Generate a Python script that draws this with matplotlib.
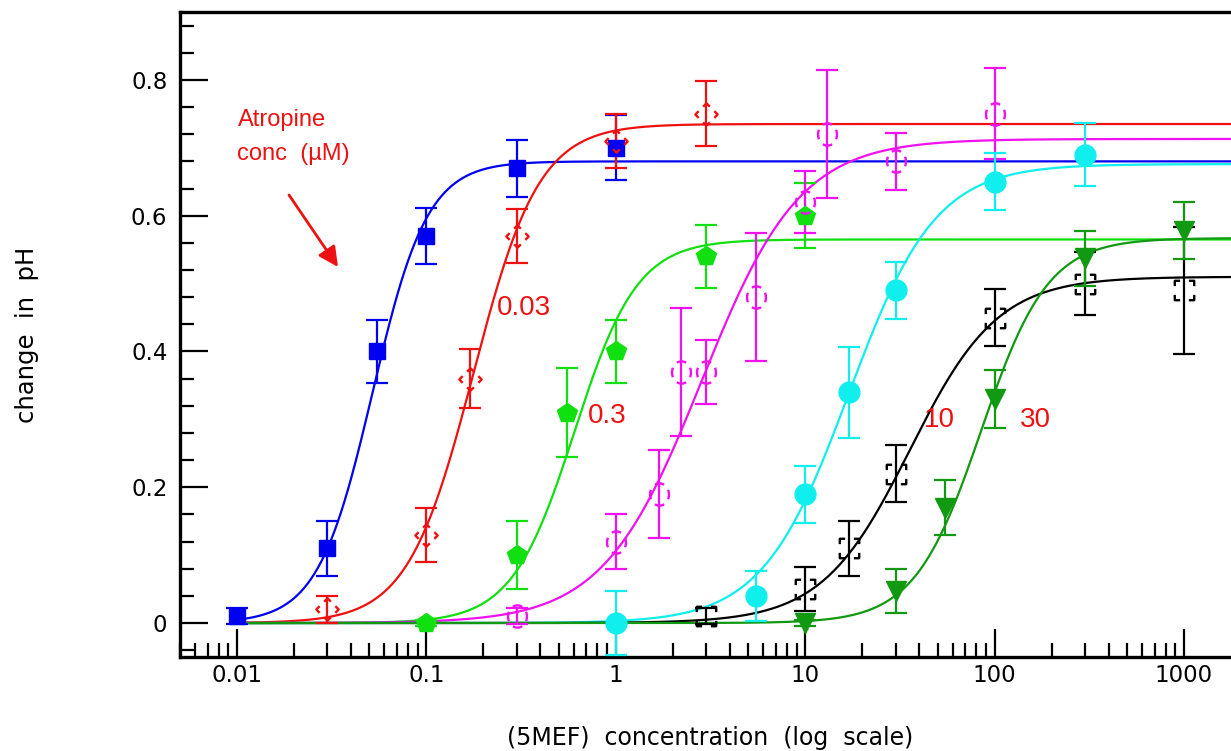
import numpy as np
import matplotlib
matplotlib.use("Agg")
import matplotlib.pyplot as plt
from matplotlib.path import Path
from matplotlib.ticker import LogLocator, MultipleLocator, FixedLocator, NullFormatter

plt.rcParams['font.family'] = ['DejaVu Sans']

# ---------------- data ----------------
# control (no atropine) - blue squares
blue_x = [0.01, 0.03, 0.055, 0.1, 0.3, 1]
blue_y = [0.01, 0.11, 0.40, 0.57, 0.67, 0.70]
blue_e = [0.012, 0.04, 0.047, 0.041, 0.042, 0.048]

# atropine 0.03 - red diamonds
red_x = [0.03, 0.1, 0.17, 0.3, 1, 3]
red_y = [0.02, 0.13, 0.36, 0.57, 0.71, 0.75]
red_e = [0.02, 0.04, 0.043, 0.04, 0.04, 0.048]

# atropine 0.3 - light green pentagons
lime_x = [0.1, 0.3, 0.55, 1, 3, 10]
lime_y = [0.0, 0.10, 0.31, 0.40, 0.54, 0.60]
lime_e = [0.004, 0.05, 0.066, 0.047, 0.046, 0.048]

# atropine 1 - magenta circles
mag_x = [0.3, 1, 1.7, 2.2, 3, 5.5, 10, 13, 30, 100]
mag_y = [0.01, 0.12, 0.19, 0.37, 0.37, 0.48, 0.62, 0.72, 0.68, 0.75]
mag_e = [0.012, 0.04, 0.065, 0.094, 0.047, 0.094, 0.046, 0.094, 0.042, 0.067]

# atropine 3 - cyan circles
cyan_x = [1, 5.5, 10, 17, 30, 100, 300]
cyan_y = [0.0, 0.04, 0.19, 0.34, 0.49, 0.65, 0.69]
cyan_e = [0.047, 0.037, 0.042, 0.067, 0.042, 0.042, 0.047]

# atropine 10 - black squares
blk_x = [3, 10, 17, 30, 100, 300, 1000]
blk_y = [0.01, 0.05, 0.11, 0.22, 0.45, 0.50, 0.49]
blk_e = [0.012, 0.032, 0.04, 0.042, 0.042, 0.047, 0.093]

# atropine 30 - dark green triangles
dg_x = [10, 30, 55, 100, 300, 1000]
dg_y = [0.0, 0.047, 0.17, 0.33, 0.537, 0.578]
dg_e = [0.004, 0.032, 0.041, 0.042, 0.04, 0.042]

# fitted curve parameters: plateau, EC50, Hill slope
fit_top = [0.68, 0.735, 0.565, 0.713, 0.676, 0.51, 0.567]
fit_ec50 = [0.052, 0.177, 0.606, 2.84, 17.0, 35.7, 85.0]
fit_hill = [3.0, 2.5, 2.62, 1.67, 1.9, 1.87, 2.46]

x_ticks = [0.01, 0.1, 1, 10, 100, 1000]
x_ticklabels = ['0.01', '0.1', '1', '10', '100', '1000']
y_ticks = [0, 0.2, 0.4, 0.6, 0.8]
y_ticklabels = ['0', '0.2', '0.4', '0.6', '0.8']

conc_labels = ['0.03', '0.3', '10', '30']


# ---------------- helpers ----------------
def dashed_marker(poly, n=4, duty=0.6):
    poly = np.asarray(poly, float)
    pts = np.vstack([poly, poly[:1]])
    cum = np.concatenate([[0], np.cumsum(np.hypot(*np.diff(pts, axis=0).T))])
    L = cum[-1]
    verts, codes = [], []
    for k in range(n):
        s0 = (k - duty / 2) * L / n
        ss = np.linspace(s0, s0 + duty * L / n, 40) % L
        xs = np.interp(ss, cum, pts[:, 0])
        ys = np.interp(ss, cum, pts[:, 1])
        for j, (a, b) in enumerate(zip(xs, ys)):
            verts.append((a, b))
            codes.append(Path.MOVETO if j == 0 else Path.LINETO)
    return Path(verts, codes)


ang = np.linspace(0, 2 * np.pi, 80, endpoint=False)
circle_poly = np.column_stack([0.85 * np.cos(ang), np.sin(ang)])
diamond_poly = [(1, 0), (0, 1), (-1, 0), (0, -1)]
square_poly = [(-1, -1), (1, -1), (1, 1), (-1, 1)]

m_diamond = dashed_marker(diamond_poly, 4, 0.6)
m_circle = dashed_marker(circle_poly, 4, 0.6)
m_square = dashed_marker(square_poly, 4, 0.55)

W, H = 1231, 751
fig = plt.figure(figsize=(W / 100, H / 100), dpi=100)
ax = fig.add_axes([180 / W, 1 - 657 / H, (1241 - 180) / W, (657 - 12) / H])
ax.set_xscale('log')

xc = np.logspace(-2, np.log10(2000), 600)

series = [
    (blue_x, blue_y, blue_e, '#0000f0', dict(marker='s', ms=11.5, mfc='#0000f0', mec='#0000f0')),
    (red_x, red_y, red_e, '#f01010', dict(marker=m_diamond, ms=16, mfc='none', mec='#f01010', mew=1.7)),
    (lime_x, lime_y, lime_e, '#10e010', dict(marker='p', ms=15, mfc='#10e010', mec='#10e010')),
    (mag_x, mag_y, mag_e, '#f010f0', dict(marker=m_circle, ms=16, mfc='none', mec='#f010f0', mew=1.7)),
    (cyan_x, cyan_y, cyan_e, '#10eeee', dict(marker='o', ms=15, mfc='#10eeee', mec='#10eeee')),
    (blk_x, blk_y, blk_e, '#000000', dict(marker=m_square, ms=14, mfc='none', mec='#000000', mew=1.7)),
    (dg_x, dg_y, dg_e, '#119911', dict(marker='v', ms=14, mfc='#119911', mec='#119911')),
]

for i, (sx, sy, se, col, mk) in enumerate(series):
    top, ec, nh = fit_top[i], fit_ec50[i], fit_hill[i]
    yc = top * xc ** nh / (xc ** nh + ec ** nh)
    ax.plot(xc, yc, color=col, lw=1.6, zorder=2 + i * 0.1)
    ax.errorbar(sx, sy, yerr=se, fmt='none', ecolor=col, elinewidth=1.6,
                capsize=8, capthick=1.6, zorder=3 + i * 0.1)
    ax.plot(sx, sy, linestyle='none', zorder=4 + i * 0.1, **mk)

ax.set_xlim(0.005, 2000)
ax.set_ylim(-0.05, 0.9)

ax.xaxis.set_major_locator(FixedLocator(x_ticks))
ax.set_xticklabels(x_ticklabels)
ax.xaxis.set_minor_locator(LogLocator(base=10, subs=np.arange(2, 10), numticks=30))
ax.xaxis.set_minor_formatter(NullFormatter())
ax.set_yticks(y_ticks)
ax.set_yticklabels(y_ticklabels)
ax.yaxis.set_minor_locator(MultipleLocator(0.04))

for s in ax.spines.values():
    s.set_linewidth(2.4)
ax.tick_params(which='both', direction='in', top=False, right=False, width=1.6, labelsize=16.5)
ax.tick_params(which='major', length=20)
ax.tick_params(which='minor', length=10)
ax.tick_params(axis='x', which='major', pad=5)
ax.tick_params(axis='y', which='major', pad=9)

ax.set_xlabel('(5MEF)  concentration  (log  scale)', fontsize=17, va='center')
ax.xaxis.set_label_coords(0.5, (657 - 738) / 645)
ax.set_ylabel('change  in  pH', fontsize=17.5, va='center')
ax.yaxis.set_label_coords((27 - 180) / 1061, 0.5)

red = '#ee1111'
fig.text(238 / W, 1 - 120 / H, 'Atropine', color=red, fontsize=17,
         family='Liberation Sans', va='center', ha='left')
fig.text(237 / W, 1 - 154 / H, 'conc  (\u00b5M)', color=red, fontsize=17,
         family='Liberation Sans', va='center', ha='left')
ax.annotate('', xy=(338, H - 267), xycoords='figure pixels',
            xytext=(289, H - 195), textcoords='figure pixels',
            arrowprops=dict(arrowstyle='-|>,head_length=1.2,head_width=0.6',
                            color=red, lw=2, shrinkA=0, shrinkB=0))

lab_pos = [(497, 308), (588, 416), (924, 420), (1020, 420)]
for txt, (px, py) in zip(conc_labels, lab_pos):
    fig.text(px / W, 1 - py / H, txt, color=red, fontsize=20,
             family='Liberation Sans', va='center', ha='left')

fig.savefig('out.png', dpi=100)
